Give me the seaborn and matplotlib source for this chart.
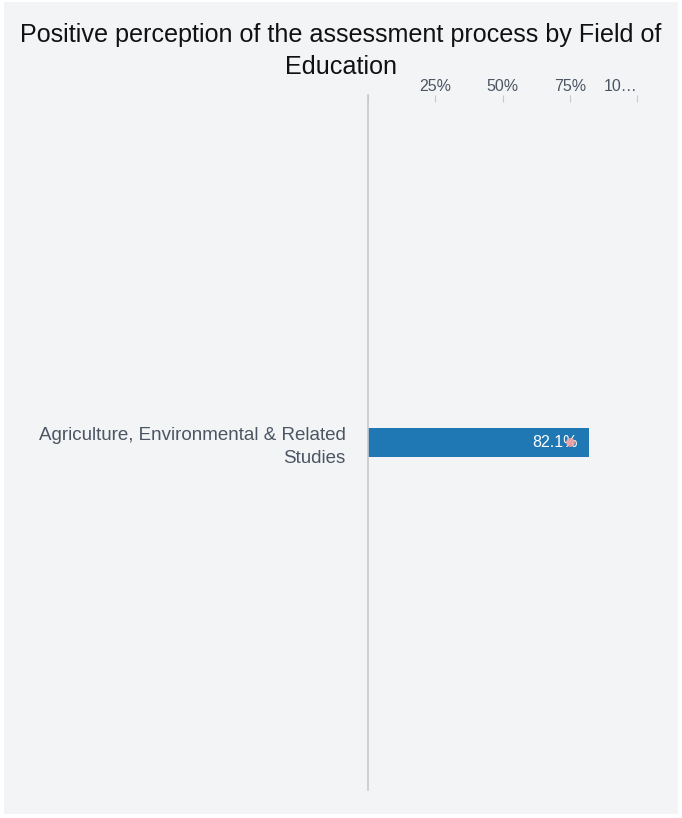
import matplotlib
matplotlib.use("Agg")
import matplotlib.pyplot as plt
import pandas as pd
import seaborn as sns
from matplotlib.patches import Rectangle

# Data
fields = ["Agriculture, Environmental & Related\nStudies"]
positive_pct = [82.1]
marker_pct = [75.0]
tick_values = [0, 25, 50, 75, 100]
tick_labels = ["", "25%", "50%", "75%", "10…"]

df = pd.DataFrame({"Field": fields, "Positive": positive_pct})

sns.set_style("white")
plt.rcParams["font.family"] = ["Liberation Sans", "DejaVu Sans"]

bg = "#f3f4f6"
text_gray = "#4b5563"

fig = plt.figure(figsize=(6.82, 8.18), dpi=100)
fig.patch.set_facecolor("white")
fig.patches.append(Rectangle((4 / 682, 4 / 818), 674 / 682, 812 / 818,
                             transform=fig.transFigure, facecolor=bg,
                             edgecolor="none", zorder=-1))

ax = fig.add_axes([368 / 682, 1 - 790 / 818, 269 / 682, 695 / 818])
ax.set_facecolor(bg)

sns.barplot(data=df, x="Positive", y="Field", color="#1f77b4",
            width=0.8, saturation=1, linewidth=0, ax=ax)

ax.set_xlim(0, 100)
ax.set_ylim(9.6, -9.6)

# value label inside bar
for i, v in enumerate(positive_pct):
    ax.text(v - 4, i, f"{v}%", ha="right", va="center",
            color="white", fontsize=11.5)
    ax.scatter([marker_pct[i]], [i], s=40, color="#f5a3a3", alpha=0.9,
               zorder=5, linewidths=0)

ax.xaxis.tick_top()
ax.set_xticks(tick_values)
ax.set_xticklabels(tick_labels, color=text_gray, fontsize=11.5)
ax.tick_params(axis="x", direction="in", length=5, color="#c8c8c8",
               pad=1, top=True, bottom=False)
# last label is clipped to the left of its tick
ax.get_xticklabels()[-1].set_horizontalalignment("right")
ax.tick_params(axis="y", length=0, pad=16, labelsize=13.5, labelcolor=text_gray)
for lbl in ax.get_yticklabels():
    lbl.set_horizontalalignment("right")
    lbl.set_multialignment("right")
    lbl.set_linespacing(1.45)

for side in ["top", "right", "bottom"]:
    ax.spines[side].set_visible(False)
ax.spines["left"].set_color("#c8c8c8")
ax.spines["left"].set_linewidth(1.2)

ax.set_xlabel("")
ax.set_ylabel("")

fig.text(0.5, 1 - 35 / 818, "Positive perception of the assessment process by Field of",
         ha="center", va="center", fontsize=18.1, color="#111111")
fig.text(0.5, 1 - 67 / 818, "Education",
         ha="center", va="center", fontsize=18.1, color="#111111")

fig.savefig("out.png", dpi=100, facecolor=fig.get_facecolor())
plt.close(fig)
